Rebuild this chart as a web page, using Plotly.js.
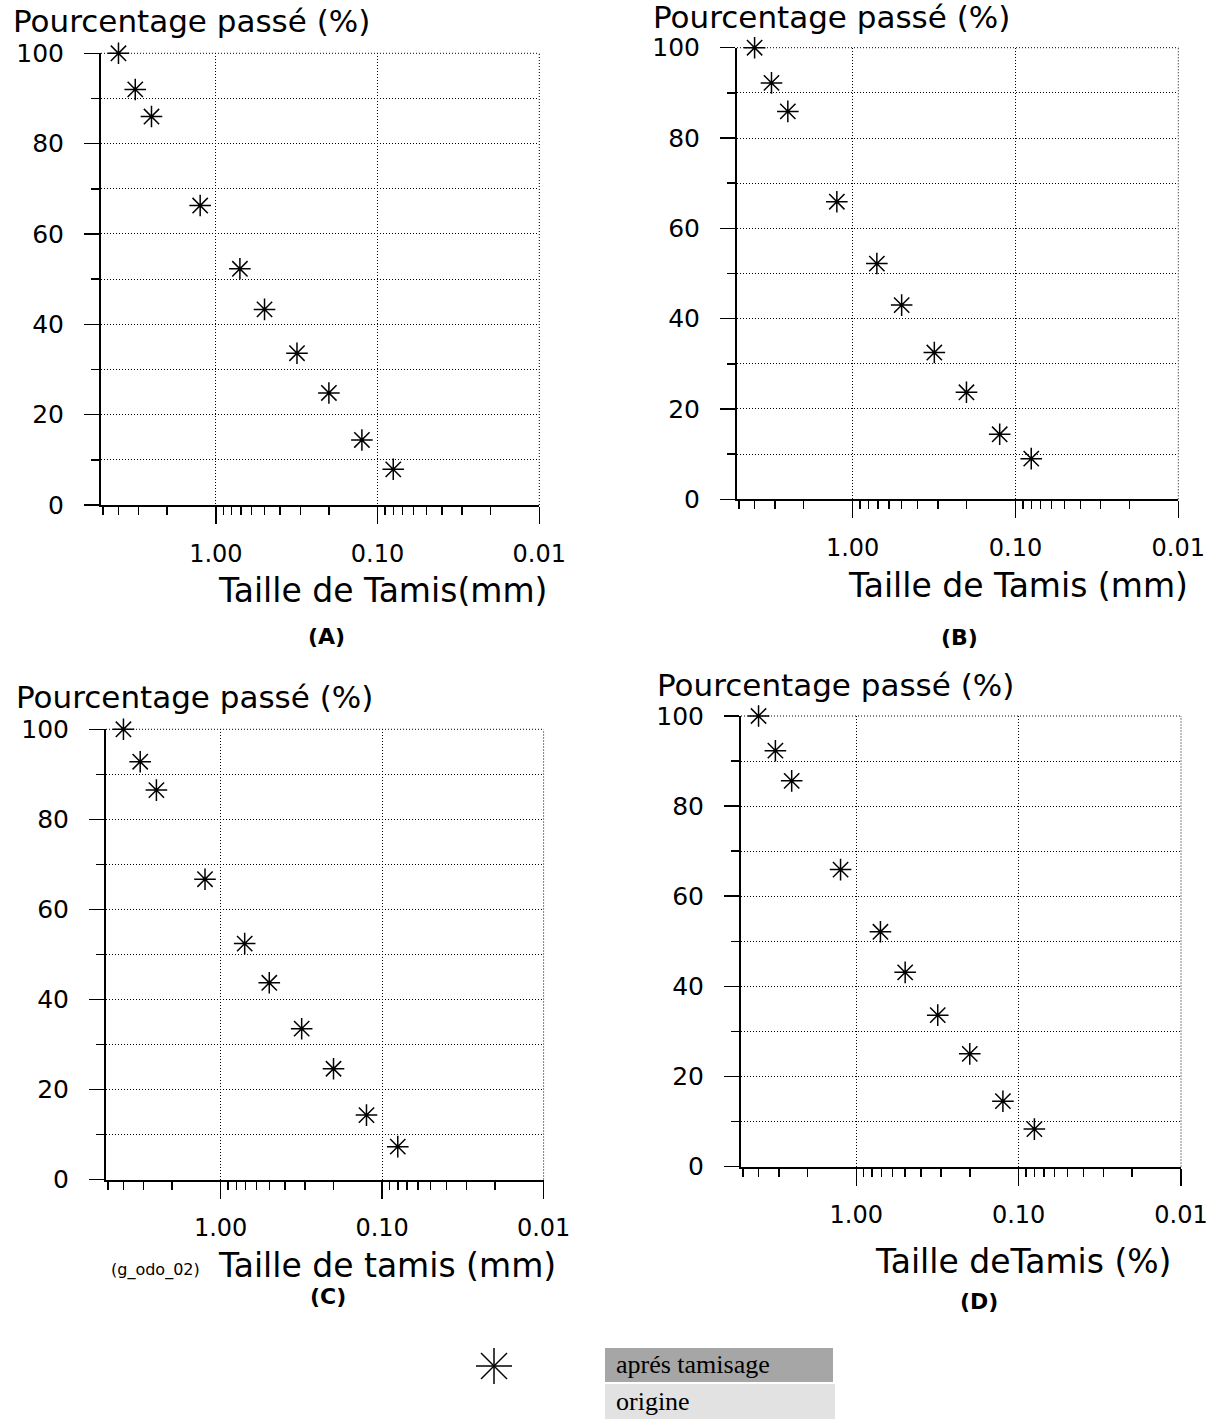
<!DOCTYPE html>
<html>
<head>
<meta charset="utf-8">
<script src="https://cdn.plot.ly/plotly-3.0.1.min.js"></script>
<style>
  html, body { margin: 0; padding: 0; background: #fff; }
  #chart { width: 1221px; height: 1419px; }
</style>
</head>
<body>
<div id="chart"></div>
<script>
// ---------- data ----------
const sieveSizes = [4, 3.15, 2.5, 1.25, 0.71, 0.5, 0.315, 0.2, 0.125, 0.08];
const passA = [100, 92, 86, 66.3, 52.3, 43.3, 33.6, 24.8, 14.4, 7.9];
const passB = [100, 92.2, 85.9, 65.9, 52.2, 43, 32.5, 23.7, 14.4, 9.0];
const passC = [100, 92.8, 86.5, 66.7, 52.4, 43.7, 33.5, 24.6, 14.3, 7.3];
const passD = [100, 92.3, 85.6, 65.9, 52.1, 43.1, 33.6, 25.0, 14.5, 8.3];

const xTickVals = [1, 0.1, 0.01];
const xTickText = ['1.00', '0.10', '0.01'];
const xMinorVals = [5, 4, 3, 2, 0.9, 0.8, 0.7, 0.6, 0.5, 0.4, 0.3, 0.2,
                    0.09, 0.08, 0.07, 0.06, 0.05, 0.04, 0.03, 0.02];
const yTickVals = [0, 20, 40, 60, 80, 100];

const yTitle = 'Pourcentage passé (%)';
const xTitles = ['Taille de Tamis(mm)', 'Taille de Tamis (mm)', 'Taille de tamis (mm)', 'Taille deTamis (%)'];
const panelLabels = ['(A)', '(B)', '(C)', '(D)'];
const seriesName = 'aprés tamisage';
const otherName = 'origine';
const noteText = '(g_odo_02)';

const series = [passA, passB, passC, passD];

// ---------- layout helpers ----------
const W = 1221, H = 1419;
const px = x => x / W;
const py = y => 1 - y / H;

const panels = [
  {xd: [101, 539.3], yd: [53.3, 505],
   yt: {x: 11, y: 21}, xt: {x: 382, y: 590}, lab: {x: 326, y: 636}},
  {xd: [737, 1178.3], yd: [47.7, 499.3],
   yt: {x: 651, y: 17}, xt: {x: 1018, y: 585}, lab: {x: 960, y: 637}},
  {xd: [106, 543.6], yd: [729.3, 1179.5],
   yt: {x: 14, y: 697}, xt: {x: 387, y: 1265}, lab: {x: 328, y: 1296}},
  {xd: [741, 1181], yd: [716, 1166.5],
   yt: {x: 655, y: 685}, xt: {x: 1023, y: 1261}, lab: {x: 979, y: 1301}}
];

const FONT = 'DejaVu Sans';
const dotted = '1px,2px';

const traces = [];
const layout = {
  width: W, height: H,
  margin: {l: 0, r: 0, t: 0, b: 0},
  paper_bgcolor: '#fff', plot_bgcolor: '#fff',
  font: {family: FONT, color: '#000'},
  showlegend: false,
  annotations: [],
  shapes: []
};

panels.forEach((p, i) => {
  const n = i === 0 ? '' : String(i + 1);
  traces.push({
    type: 'scatter', mode: 'markers',
    x: sieveSizes, y: series[i],
    xaxis: 'x' + n, yaxis: 'y' + n,
    name: seriesName,
    cliponaxis: false,
    marker: {symbol: 'asterisk-open', size: 18, color: '#000',
             line: {color: '#000', width: 1.5}},
    hoverinfo: 'x+y'
  });

  layout['xaxis' + n] = {
    type: 'log',
    domain: [px(p.xd[0]), px(p.xd[1])],
    range: [Math.log10(5.13), -2],
    anchor: 'y' + n,
    tickmode: 'array', tickvals: xTickVals, ticktext: xTickText,
    ticks: 'outside', ticklen: 17, tickwidth: 1.5, tickcolor: '#000',
    tickfont: {family: FONT, size: 24, color: '#000'},
    ticklabelstandoff: 9,
    showgrid: true, gridcolor: '#000', gridwidth: 1, griddash: dotted,
    showline: true, linecolor: '#000', linewidth: 2,
    zeroline: false,
    minor: {tickmode: 'array', tickvals: xMinorVals, ticks: 'outside',
            ticklen: 8, tickwidth: 1.5, tickcolor: '#000', showgrid: false}
  };
  layout['yaxis' + n] = {
    domain: [py(p.yd[1]), py(p.yd[0])],
    range: [0, 100],
    anchor: 'x' + n,
    tickmode: 'array', tickvals: yTickVals,
    ticks: 'outside', ticklen: 15, tickwidth: 1.5, tickcolor: '#000',
    tickfont: {family: FONT, size: 25, color: '#000'},
    ticklabelstandoff: 15,
    showgrid: true, gridcolor: '#000', gridwidth: 1, griddash: dotted,
    showline: true, linecolor: '#000', linewidth: 2,
    zeroline: false,
    minor: {dtick: 10, tick0: 0, ticks: 'outside', ticklen: 8, tickwidth: 1.5,
            tickcolor: '#000', showgrid: true, gridcolor: '#000', gridwidth: 1,
            griddash: dotted}
  };

  // top and right dotted borders
  layout.shapes.push({type: 'line', xref: 'x' + n + ' domain', yref: 'y' + n + ' domain',
    x0: 0, x1: 1, y0: 1, y1: 1, line: {color: '#000', width: 1, dash: dotted}});
  layout.shapes.push({type: 'line', xref: 'x' + n + ' domain', yref: 'y' + n + ' domain',
    x0: 1, x1: 1, y0: 0, y1: 1, line: {color: '#000', width: 1, dash: dotted}});

  layout.annotations.push({
    text: yTitle, xref: 'paper', yref: 'paper',
    x: px(p.yt.x), y: py(p.yt.y), xanchor: 'left', yanchor: 'middle',
    showarrow: false, font: {family: FONT, size: 31, color: '#000'}
  });
  layout.annotations.push({
    text: xTitles[i], xref: 'paper', yref: 'paper',
    x: px(p.xt.x), y: py(p.xt.y), xanchor: 'center', yanchor: 'middle',
    showarrow: false, font: {family: FONT, size: 33, color: '#000'}
  });
  layout.annotations.push({
    text: '<b>' + panelLabels[i] + '</b>', xref: 'paper', yref: 'paper',
    x: px(p.lab.x), y: py(p.lab.y), xanchor: 'center', yanchor: 'middle',
    showarrow: false, font: {family: FONT, size: 22, color: '#000'}
  });
});

// note under panel C
layout.annotations.push({
  text: noteText, xref: 'paper', yref: 'paper',
  x: px(155), y: py(1270), xanchor: 'center', yanchor: 'middle',
  showarrow: false, font: {family: FONT, size: 16, color: '#000'}
});

// legend (key + labels)
const keyC = {x: 494, y: 1366}, r = 18, rd = 13;
[[0, -r, 0, r], [-r, 0, r, 0], [-rd, -rd, rd, rd], [-rd, rd, rd, -rd]].forEach(s => {
  layout.shapes.push({type: 'line', xref: 'paper', yref: 'paper',
    x0: px(keyC.x + s[0]), y0: py(keyC.y + s[1]),
    x1: px(keyC.x + s[2]), y1: py(keyC.y + s[3]),
    line: {color: '#000', width: 1.5}});
});
layout.shapes.push({type: 'rect', xref: 'paper', yref: 'paper', layer: 'below',
  x0: px(605), x1: px(833), y0: py(1382), y1: py(1348),
  fillcolor: '#a6a6a6', line: {width: 0}});
layout.shapes.push({type: 'rect', xref: 'paper', yref: 'paper', layer: 'below',
  x0: px(605), x1: px(835), y0: py(1419), y1: py(1384),
  fillcolor: '#e2e2e2', line: {width: 0}});
layout.annotations.push({
  text: seriesName, xref: 'paper', yref: 'paper',
  x: px(614), y: py(1364), xanchor: 'left', yanchor: 'middle',
  showarrow: false,
  font: {family: 'Liberation Serif', size: 26, color: '#000'}
});
layout.annotations.push({
  text: otherName, xref: 'paper', yref: 'paper',
  x: px(614), y: py(1401), xanchor: 'left', yanchor: 'middle',
  showarrow: false,
  font: {family: 'Liberation Serif', size: 26, color: '#000'}
});

Plotly.newPlot('chart', traces, layout, {staticPlot: true, displayModeBar: false});
</script>
</body>
</html>
